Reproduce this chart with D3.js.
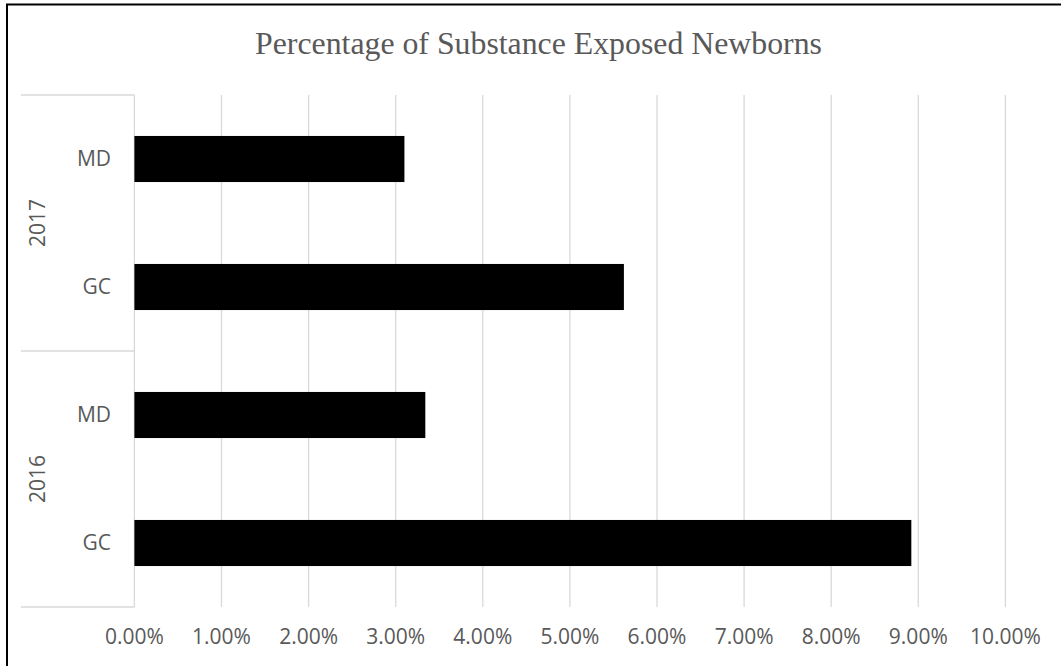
<!DOCTYPE html>
<html>
<head>
<meta charset="utf-8">
<script src="https://cdn.jsdelivr.net/npm/d3@7"></script>
<style>
  html, body { margin: 0; padding: 0; background: #fff; }
  svg { display: block; }
</style>
</head>
<body>
<svg id="chart" width="1061" height="666"></svg>
<script>
// Chart data
const years = ["2017", "2016"];
const regions = ["MD", "GC"];
const pct2017 = [3.10, 5.62];   // MD, GC
const pct2016 = [3.34, 8.92];   // MD, GC
const xTicks = [0, 1, 2, 3, 4, 5, 6, 7, 8, 9, 10];

const rows = [];
years.forEach((y, i) => {
  const vals = i === 0 ? pct2017 : pct2016;
  regions.forEach((r, j) => rows.push({ year: y, region: r, key: y + "|" + r, value: vals[j] }));
});

const svg = d3.select("#chart");
const W = 1061, H = 666;
const plot = { left: 134.4, right: 1005.4, top: 95, bottom: 607 };
const textColor = "#595959";
const gridColor = "#d9d9d9";

// Frame
svg.append("path")
  .attr("d", `M7,${H} V4.5 H${W}`)
  .attr("fill", "none").attr("stroke", "#000").attr("stroke-width", 2);

// Title
svg.append("text")
  .attr("x", 538.5).attr("y", 54)
  .attr("text-anchor", "middle")
  .attr("font-family", "'Liberation Serif', 'Times New Roman', serif")
  .attr("font-size", 31.8)
  .attr("fill", textColor)
  .text("Percentage of Substance Exposed Newborns");

const x = d3.scaleLinear().domain([0, 10]).range([plot.left, plot.right]);
const yGroup = d3.scaleBand().domain(years).range([plot.top, plot.bottom]);
const yRow = d3.scaleBand().domain(rows.map(d => d.key)).range([plot.top, plot.bottom]).paddingInner(0.64).paddingOuter(0.32);

// Vertical gridlines
svg.append("g").selectAll("line").data(xTicks.slice(1)).join("line")
  .attr("x1", d => x(d)).attr("x2", d => x(d))
  .attr("y1", plot.top).attr("y2", plot.bottom)
  .attr("stroke", gridColor).attr("stroke-width", 1.3);

// Category axis frame
const catLeft = 21;
svg.append("line")
  .attr("x1", plot.left).attr("x2", plot.left)
  .attr("y1", plot.top).attr("y2", plot.bottom)
  .attr("stroke", gridColor).attr("stroke-width", 1.3);
const bounds = [plot.top, ...years.map(y => yGroup(y) + yGroup.bandwidth())];
svg.append("g").selectAll("line").data(bounds).join("line")
  .attr("x1", catLeft).attr("x2", plot.left)
  .attr("y1", d => d).attr("y2", d => d)
  .attr("stroke", gridColor).attr("stroke-width", 1.3);

// Bars
svg.append("g").selectAll("rect").data(rows).join("rect")
  .attr("x", x(0))
  .attr("y", d => yRow(d.key))
  .attr("width", d => x(d.value) - x(0))
  .attr("height", yRow.bandwidth())
  .attr("fill", "#000");

const labelFont = "'Open Sans', 'Noto Sans', sans-serif";
const labelSize = 21;

// Region labels
svg.append("g").selectAll("text").data(rows).join("text")
  .attr("x", 111)
  .attr("y", d => yRow(d.key) + yRow.bandwidth() / 2)
  .attr("dy", "0.35em")
  .attr("text-anchor", "end")
  .attr("font-family", labelFont).attr("font-size", labelSize)
  .attr("fill", textColor)
  .text(d => d.region);

// Year labels
svg.append("g").selectAll("text").data(years).join("text")
  .attr("transform", d => `translate(38,${yGroup(d) + yGroup.bandwidth() / 2}) rotate(-90)`)
  .attr("dy", "0.35em")
  .attr("text-anchor", "middle")
  .attr("font-family", labelFont).attr("font-size", labelSize)
  .attr("fill", textColor)
  .text(d => d);

// X tick labels
svg.append("g").selectAll("text").data(xTicks).join("text")
  .attr("x", d => x(d))
  .attr("y", 644)
  .attr("text-anchor", "middle")
  .attr("font-family", labelFont).attr("font-size", labelSize)
  .attr("fill", textColor)
  .text(d => d.toFixed(2) + "%");
</script>
</body>
</html>
